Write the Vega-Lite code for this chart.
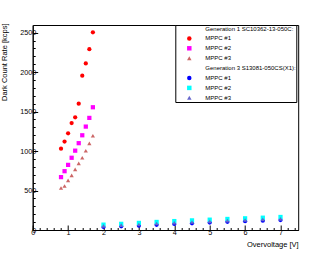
{
  "$schema": "https://vega.github.io/schema/vega-lite/v6.json",
  "width": 265.5,
  "height": 205,
  "autosize": {"type": "none"},
  "padding": {"left": 32.7, "top": 25, "right": 33.8, "bottom": 27},
  "background": "white",
  "config": {
    "view": {"stroke": "black", "strokeWidth": 1},
    "font": "Liberation Sans",
    "axis": {"grid": false, "domainColor": "black", "domainWidth": 1, "tickColor": "black", "tickWidth": 1, "labelColor": "black", "titleColor": "black", "labelFont": "Liberation Sans", "titleFont": "Liberation Sans", "labelFontSize": 7.2, "titleFontSize": 7.5, "titleFontWeight": "normal"},
    "legend": {"symbolSize": 20, "symbolOffset": 10.5, "labelOffset": 13, "rowPadding": 3.9, "padding": 0.5, "labelFontSize": 6, "labelFont": "Liberation Sans", "labelColor": "black"}
  },
  "datasets": {
    "gen1": [
      {"series": "g1m1", "ov": 0.8, "dcr": 1030}, {"series": "g1m1", "ov": 0.9, "dcr": 1120}, {"series": "g1m1", "ov": 1.0, "dcr": 1225}, {"series": "g1m1", "ov": 1.1, "dcr": 1355}, {"series": "g1m1", "ov": 1.2, "dcr": 1427}, {"series": "g1m1", "ov": 1.3, "dcr": 1600}, {"series": "g1m1", "ov": 1.4, "dcr": 1955}, {"series": "g1m1", "ov": 1.5, "dcr": 2110}, {"series": "g1m1", "ov": 1.6, "dcr": 2290}, {"series": "g1m1", "ov": 1.7, "dcr": 2505},
      {"series": "g1m2", "ov": 0.8, "dcr": 670}, {"series": "g1m2", "ov": 0.9, "dcr": 745}, {"series": "g1m2", "ov": 1.0, "dcr": 825}, {"series": "g1m2", "ov": 1.1, "dcr": 915}, {"series": "g1m2", "ov": 1.2, "dcr": 1005}, {"series": "g1m2", "ov": 1.3, "dcr": 1100}, {"series": "g1m2", "ov": 1.4, "dcr": 1200}, {"series": "g1m2", "ov": 1.5, "dcr": 1310}, {"series": "g1m2", "ov": 1.6, "dcr": 1420}, {"series": "g1m2", "ov": 1.7, "dcr": 1555},
      {"series": "g1m3", "ov": 0.8, "dcr": 532}, {"series": "g1m3", "ov": 0.9, "dcr": 557}, {"series": "g1m3", "ov": 1.0, "dcr": 629}, {"series": "g1m3", "ov": 1.1, "dcr": 692}, {"series": "g1m3", "ov": 1.2, "dcr": 768}, {"series": "g1m3", "ov": 1.3, "dcr": 844}, {"series": "g1m3", "ov": 1.4, "dcr": 915}, {"series": "g1m3", "ov": 1.5, "dcr": 1004}, {"series": "g1m3", "ov": 1.6, "dcr": 1097}, {"series": "g1m3", "ov": 1.7, "dcr": 1194}
    ],
    "gen3": [
      {"series": "g3m1", "ov": 2.0, "dcr": 38}, {"series": "g3m1", "ov": 2.5, "dcr": 46}, {"series": "g3m1", "ov": 3.0, "dcr": 54}, {"series": "g3m1", "ov": 3.5, "dcr": 66}, {"series": "g3m1", "ov": 4.0, "dcr": 76}, {"series": "g3m1", "ov": 4.5, "dcr": 85}, {"series": "g3m1", "ov": 5.0, "dcr": 94}, {"series": "g3m1", "ov": 5.5, "dcr": 103}, {"series": "g3m1", "ov": 6.0, "dcr": 111}, {"series": "g3m1", "ov": 6.5, "dcr": 118}, {"series": "g3m1", "ov": 7.0, "dcr": 126},
      {"series": "g3m2", "ov": 2.0, "dcr": 68}, {"series": "g3m2", "ov": 2.5, "dcr": 78}, {"series": "g3m2", "ov": 3.0, "dcr": 90}, {"series": "g3m2", "ov": 3.5, "dcr": 102}, {"series": "g3m2", "ov": 4.0, "dcr": 113}, {"series": "g3m2", "ov": 4.5, "dcr": 122}, {"series": "g3m2", "ov": 5.0, "dcr": 131}, {"series": "g3m2", "ov": 5.5, "dcr": 140}, {"series": "g3m2", "ov": 6.0, "dcr": 148}, {"series": "g3m2", "ov": 6.5, "dcr": 156}, {"series": "g3m2", "ov": 7.0, "dcr": 165},
      {"series": "g3m3", "ov": 2.0, "dcr": 52}, {"series": "g3m3", "ov": 2.5, "dcr": 61}, {"series": "g3m3", "ov": 3.0, "dcr": 70}, {"series": "g3m3", "ov": 3.5, "dcr": 82}, {"series": "g3m3", "ov": 4.0, "dcr": 92}, {"series": "g3m3", "ov": 4.5, "dcr": 101}, {"series": "g3m3", "ov": 5.0, "dcr": 110}, {"series": "g3m3", "ov": 5.5, "dcr": 119}, {"series": "g3m3", "ov": 6.0, "dcr": 127}, {"series": "g3m3", "ov": 6.5, "dcr": 135}, {"series": "g3m3", "ov": 7.0, "dcr": 142}
    ]
  },
  "layer": [
    {
      "data": {"name": "gen1"},
      "mark": {"type": "point", "filled": true, "opacity": 1, "size": 18},
      "encoding": {
        "x": {"field": "ov", "type": "quantitative", "scale": {"domain": [0, 7.5], "nice": false, "zero": false},
          "axis": {"orient": "bottom", "values": [0, 1, 2, 3, 4, 5, 6, 7], "format": "d", "tickSize": -5, "labelPadding": 3.6, "labelFlush": false, "labelOverlap": false,
            "title": "Overvoltage [V]", "titleAnchor": "end", "titleAlign": "right", "titleX": 265.5, "titleY": 16.7, "titleBaseline": "alphabetic"}},
        "y": {"field": "dcr", "type": "quantitative", "scale": {"domain": [0, 2597], "nice": false, "zero": false},
          "axis": {"orient": "left", "values": [0, 500, 1000, 1500, 2000, 2500], "format": "d", "tickSize": -5, "labelPadding": 2, "labelFlush": false, "labelOverlap": false,
            "title": "Dark Count Rate [kcps]", "titleAnchor": "end", "titleAlign": "right", "titleAngle": -90, "titleX": -28.2, "titleY": -2, "titleBaseline": "middle"}},
        "color": {"field": "series", "type": "nominal",
          "scale": {"domain": ["h1", "g1m1", "g1m2", "g1m3", "h3", "g3m1", "g3m2", "g3m3"], "range": ["white", "#ff0000", "#ff00ff", "#cc6666", "white", "#0000ff", "#00ffff", "#6666cc"]},
          "legend": {"orient": "none", "legendX": 142.6, "legendY": 0, "title": null, "padding": 0.5, "strokeColor": "black", "fillColor": "white", "cornerRadius": 0,
            "labelFont": "Liberation Sans", "labelFontSize": 6, "labelColor": "black", "labelLimit": 200, "symbolSize": 20, "symbolOffset": 10.5, "labelOffset": 13, "rowPadding": 3.9,
            "labelExpr": "datum.value == 'h1' ? 'Generation 1 SC10362-13-050C:' : datum.value == 'h3' ? 'Generation 3 S13081-050CS(X1): ' : datum.value == 'g1m1' || datum.value == 'g3m1' ? 'MPPC #1' : datum.value == 'g1m2' || datum.value == 'g3m2' ? 'MPPC #2' : 'MPPC #3'"}},
        "shape": {"field": "series", "type": "nominal",
          "scale": {"domain": ["h1", "g1m1", "g1m2", "g1m3", "h3", "g3m1", "g3m2", "g3m3"], "range": ["circle", "circle", "square", "triangle-up", "circle", "circle", "square", "triangle-up"]},
          "legend": {"orient": "none", "legendX": 142.6, "legendY": 0, "title": null, "padding": 0.5, "strokeColor": "black", "fillColor": "white", "cornerRadius": 0,
            "labelFont": "Liberation Sans", "labelFontSize": 6, "labelColor": "black", "labelLimit": 200, "symbolSize": 20, "symbolOffset": 10.5, "labelOffset": 13, "rowPadding": 3.9,
            "labelExpr": "datum.value == 'h1' ? 'Generation 1 SC10362-13-050C:' : datum.value == 'h3' ? 'Generation 3 S13081-050CS(X1): ' : datum.value == 'g1m1' || datum.value == 'g3m1' ? 'MPPC #1' : datum.value == 'g1m2' || datum.value == 'g3m2' ? 'MPPC #2' : 'MPPC #3'"}}
      }
    },
    {
      "data": {"name": "gen3"},
      "mark": {"type": "point", "filled": true, "opacity": 1, "size": 18},
      "encoding": {
        "x": {"field": "ov", "type": "quantitative", "scale": {"domain": [0, 7.5], "nice": false, "zero": false},
          "axis": {"orient": "bottom", "values": [0.2, 0.4, 0.6, 0.8, 1.2, 1.4, 1.6, 1.8, 2.2, 2.4, 2.6, 2.8, 3.2, 3.4, 3.6, 3.8, 4.2, 4.4, 4.6, 4.8, 5.2, 5.4, 5.6, 5.8, 6.2, 6.4, 6.6, 6.8, 7.2, 7.4], "tickSize": -2.5, "labels": false, "domain": false, "title": null}},
        "y": {"field": "dcr", "type": "quantitative", "scale": {"domain": [0, 2597], "nice": false, "zero": false},
          "axis": {"orient": "left", "values": [100, 200, 300, 400, 600, 700, 800, 900, 1100, 1200, 1300, 1400, 1600, 1700, 1800, 1900, 2100, 2200, 2300, 2400], "tickSize": -2.5, "labels": false, "domain": false, "title": null}},
        "color": {"field": "series", "type": "nominal"},
        "shape": {"field": "series", "type": "nominal"}
      }
    }
  ],
  "resolve": {"scale": {"x": "independent", "y": "independent"}}
}
